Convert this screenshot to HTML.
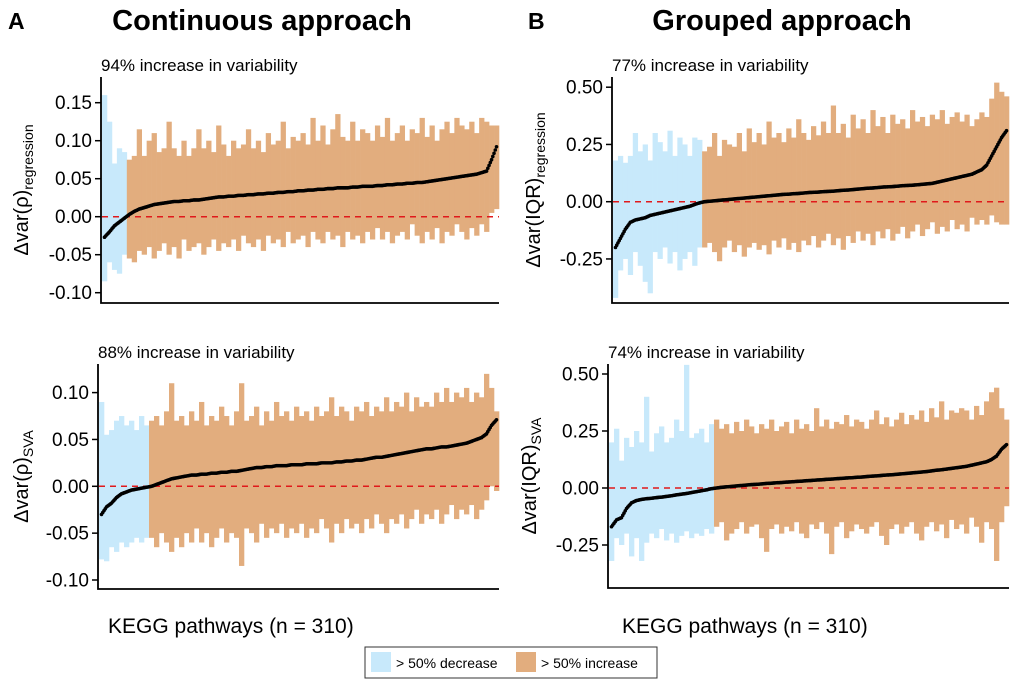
<!DOCTYPE html>
<html><head><meta charset="utf-8"><style>
body{margin:0;background:#fff;width:1020px;height:684px;overflow:hidden;font-family:"Liberation Sans",Arial,sans-serif}
svg text{font-family:"Liberation Sans",Arial,sans-serif}
</style></head><body>
<svg id="chart" width="1020" height="684" viewBox="0 0 1020 684" xmlns="http://www.w3.org/2000/svg">
<text x="8" y="29" font-size="23" font-weight="bold">A</text>
<text x="262" y="30" font-size="29" font-weight="bold" text-anchor="middle">Continuous approach</text>
<text x="528" y="29" font-size="23" font-weight="bold">B</text>
<text x="782" y="30" font-size="29" font-weight="bold" text-anchor="middle">Grouped approach</text>
<text x="108" y="633" font-size="21">KEGG pathways (n = 310)</text>
<text x="622" y="633" font-size="21">KEGG pathways (n = 310)</text>
<g>
<rect x="365" y="647" width="292" height="31" fill="#fff" stroke="#333" stroke-width="1"/>
<rect x="371" y="652" width="20" height="20" fill="#c8e9fb"/>
<text x="396" y="668" font-size="14">&gt; 50% decrease</text>
<rect x="516" y="652" width="20" height="20" fill="#e2ad7e"/>
<text x="541" y="668" font-size="14">&gt; 50% increase</text>
</g>
</svg>
<script>
const aTopMid=[-0.027,-0.02,-0.012,-0.007,-0.002,0.003,0.007,0.01,0.012,0.014,0.016,0.017,0.018,0.019,0.02,0.02,0.021,0.021,0.022,0.022,0.023,0.024,0.025,0.026,0.026,0.027,0.027,0.028,0.028,0.029,0.029,0.03,0.03,0.031,0.031,0.032,0.032,0.033,0.033,0.034,0.034,0.035,0.035,0.036,0.036,0.037,0.037,0.038,0.038,0.038,0.039,0.039,0.04,0.04,0.04,0.041,0.041,0.042,0.042,0.043,0.043,0.044,0.044,0.045,0.045,0.046,0.047,0.048,0.049,0.05,0.051,0.052,0.053,0.054,0.055,0.056,0.058,0.06,0.075,0.092];
const aTopUp=[0.16,0.125,0.07,0.09,0.085,0.075,0.08,0.115,0.08,0.1,0.11,0.085,0.09,0.125,0.09,0.08,0.1,0.08,0.09,0.115,0.09,0.1,0.085,0.12,0.095,0.08,0.1,0.09,0.095,0.115,0.09,0.1,0.085,0.11,0.095,0.1,0.125,0.09,0.105,0.1,0.11,0.095,0.13,0.1,0.12,0.095,0.115,0.135,0.105,0.1,0.125,0.1,0.115,0.11,0.1,0.12,0.105,0.13,0.1,0.11,0.12,0.1,0.115,0.11,0.13,0.105,0.12,0.1,0.115,0.125,0.11,0.13,0.12,0.115,0.125,0.11,0.13,0.125,0.12,0.12];
const aTopLo=[-0.085,-0.06,-0.07,-0.075,-0.05,-0.055,-0.06,-0.045,-0.05,-0.04,-0.055,-0.045,-0.035,-0.05,-0.04,-0.055,-0.03,-0.045,-0.04,-0.035,-0.05,-0.04,-0.03,-0.045,-0.035,-0.04,-0.03,-0.045,-0.025,-0.035,-0.04,-0.03,-0.045,-0.025,-0.035,-0.03,-0.04,-0.02,-0.035,-0.03,-0.025,-0.04,-0.02,-0.03,-0.035,-0.02,-0.03,-0.025,-0.04,-0.02,-0.03,-0.025,-0.035,-0.02,-0.03,-0.015,-0.03,-0.02,-0.035,-0.025,-0.02,-0.03,-0.01,-0.025,-0.035,-0.02,-0.03,-0.015,-0.035,-0.02,-0.025,-0.01,-0.02,-0.03,-0.015,-0.025,-0.01,-0.02,0.005,0.01];
const aBotMid=[-0.03,-0.022,-0.018,-0.012,-0.008,-0.006,-0.004,-0.003,-0.002,-0.001,0.0,0.002,0.004,0.006,0.008,0.009,0.01,0.011,0.012,0.012,0.013,0.013,0.014,0.014,0.015,0.015,0.016,0.016,0.017,0.018,0.019,0.02,0.02,0.021,0.021,0.022,0.022,0.022,0.023,0.023,0.023,0.024,0.024,0.024,0.025,0.025,0.025,0.026,0.026,0.027,0.027,0.028,0.028,0.029,0.03,0.031,0.031,0.032,0.033,0.034,0.035,0.036,0.037,0.038,0.039,0.04,0.04,0.041,0.042,0.042,0.043,0.044,0.045,0.046,0.048,0.05,0.052,0.056,0.065,0.071];
const aBotUp=[0.09,0.055,0.06,0.07,0.075,0.065,0.07,0.06,0.075,0.065,0.07,0.075,0.065,0.08,0.11,0.07,0.075,0.065,0.08,0.07,0.09,0.065,0.075,0.07,0.085,0.075,0.065,0.08,0.11,0.07,0.075,0.085,0.065,0.08,0.07,0.09,0.075,0.08,0.07,0.085,0.075,0.08,0.07,0.085,0.075,0.08,0.095,0.075,0.085,0.08,0.07,0.085,0.08,0.09,0.075,0.085,0.08,0.095,0.08,0.09,0.085,0.1,0.08,0.095,0.085,0.09,0.085,0.1,0.09,0.105,0.09,0.1,0.095,0.105,0.09,0.1,0.095,0.12,0.105,0.08];
const aBotLo=[-0.078,-0.08,-0.065,-0.07,-0.06,-0.065,-0.06,-0.055,-0.06,-0.055,-0.055,-0.065,-0.05,-0.06,-0.07,-0.055,-0.065,-0.05,-0.06,-0.045,-0.06,-0.05,-0.065,-0.055,-0.045,-0.06,-0.05,-0.055,-0.085,-0.045,-0.05,-0.06,-0.04,-0.055,-0.045,-0.05,-0.04,-0.055,-0.045,-0.05,-0.04,-0.055,-0.045,-0.05,-0.035,-0.045,-0.06,-0.04,-0.05,-0.035,-0.045,-0.04,-0.05,-0.035,-0.045,-0.03,-0.04,-0.05,-0.035,-0.04,-0.03,-0.045,-0.035,-0.025,-0.04,-0.03,-0.035,-0.025,-0.04,-0.03,-0.02,-0.035,-0.025,-0.03,-0.02,-0.035,-0.025,-0.015,0.0,-0.005];
const bTopMid=[-0.2,-0.16,-0.12,-0.09,-0.08,-0.075,-0.07,-0.06,-0.055,-0.05,-0.045,-0.04,-0.035,-0.03,-0.025,-0.02,-0.012,-0.005,0.0,0.002,0.004,0.006,0.008,0.01,0.012,0.014,0.016,0.018,0.02,0.022,0.024,0.026,0.028,0.03,0.032,0.033,0.035,0.036,0.038,0.04,0.041,0.042,0.044,0.045,0.046,0.048,0.05,0.051,0.053,0.055,0.057,0.059,0.06,0.062,0.064,0.065,0.066,0.068,0.07,0.071,0.072,0.074,0.076,0.078,0.08,0.085,0.09,0.095,0.1,0.105,0.11,0.115,0.12,0.13,0.14,0.16,0.2,0.24,0.28,0.31];
const bTopUp=[0.18,0.2,0.17,0.2,0.3,0.22,0.25,0.18,0.3,0.26,0.22,0.31,0.2,0.28,0.25,0.2,0.28,0.27,0.22,0.24,0.3,0.2,0.27,0.25,0.24,0.3,0.22,0.32,0.26,0.3,0.25,0.35,0.28,0.3,0.26,0.32,0.28,0.36,0.3,0.27,0.33,0.29,0.35,0.3,0.42,0.3,0.34,0.28,0.38,0.32,0.36,0.3,0.4,0.33,0.37,0.3,0.38,0.34,0.36,0.32,0.4,0.35,0.37,0.33,0.38,0.36,0.4,0.34,0.37,0.39,0.35,0.38,0.33,0.36,0.39,0.37,0.45,0.52,0.48,0.46];
const bTopLo=[-0.42,-0.3,-0.25,-0.32,-0.22,-0.28,-0.35,-0.4,-0.22,-0.25,-0.2,-0.27,-0.22,-0.3,-0.25,-0.22,-0.28,-0.2,-0.2,-0.18,-0.22,-0.26,-0.2,-0.17,-0.22,-0.19,-0.24,-0.2,-0.18,-0.21,-0.19,-0.23,-0.17,-0.2,-0.16,-0.21,-0.18,-0.22,-0.17,-0.19,-0.15,-0.2,-0.17,-0.14,-0.19,-0.16,-0.21,-0.15,-0.18,-0.13,-0.17,-0.14,-0.19,-0.13,-0.16,-0.12,-0.17,-0.14,-0.11,-0.16,-0.13,-0.1,-0.15,-0.12,-0.09,-0.14,-0.11,-0.13,-0.08,-0.12,-0.1,-0.13,-0.07,-0.1,-0.08,-0.1,-0.06,-0.09,-0.1,-0.1];
const bBotMid=[-0.17,-0.14,-0.13,-0.09,-0.065,-0.055,-0.05,-0.047,-0.045,-0.042,-0.04,-0.037,-0.034,-0.03,-0.027,-0.024,-0.02,-0.016,-0.012,-0.008,-0.003,0.0,0.003,0.005,0.007,0.009,0.011,0.013,0.015,0.016,0.018,0.02,0.021,0.023,0.024,0.026,0.027,0.029,0.03,0.032,0.033,0.035,0.036,0.038,0.039,0.041,0.042,0.044,0.045,0.047,0.048,0.05,0.052,0.053,0.055,0.057,0.058,0.06,0.062,0.064,0.066,0.068,0.07,0.072,0.075,0.078,0.08,0.083,0.086,0.089,0.092,0.095,0.1,0.105,0.11,0.115,0.125,0.14,0.17,0.19];
const bBotUp=[0.2,0.26,0.12,0.22,0.18,0.25,0.2,0.4,0.16,0.24,0.27,0.2,0.22,0.3,0.25,0.54,0.22,0.24,0.26,0.2,0.28,0.3,0.26,0.28,0.24,0.29,0.25,0.3,0.27,0.24,0.28,0.26,0.3,0.25,0.27,0.29,0.24,0.3,0.26,0.28,0.25,0.35,0.27,0.3,0.26,0.29,0.28,0.32,0.27,0.3,0.29,0.26,0.3,0.34,0.28,0.31,0.27,0.3,0.33,0.28,0.32,0.3,0.34,0.29,0.35,0.31,0.38,0.3,0.34,0.33,0.35,0.34,0.3,0.36,0.32,0.38,0.42,0.44,0.35,0.3];
const bBotLo=[-0.32,-0.22,-0.25,-0.2,-0.3,-0.22,-0.32,-0.24,-0.2,-0.22,-0.18,-0.23,-0.2,-0.24,-0.21,-0.19,-0.22,-0.2,-0.21,-0.18,-0.2,-0.17,-0.15,-0.23,-0.2,-0.18,-0.15,-0.2,-0.17,-0.16,-0.22,-0.28,-0.18,-0.16,-0.2,-0.17,-0.19,-0.15,-0.2,-0.22,-0.16,-0.18,-0.15,-0.2,-0.29,-0.17,-0.15,-0.22,-0.19,-0.16,-0.18,-0.2,-0.17,-0.15,-0.21,-0.25,-0.18,-0.16,-0.2,-0.17,-0.15,-0.2,-0.23,-0.17,-0.15,-0.19,-0.16,-0.22,-0.14,-0.18,-0.16,-0.2,-0.13,-0.17,-0.24,-0.15,-0.18,-0.32,-0.15,-0.08];
const aTicks=[0.15,0.10,0.05,0.00,-0.05,-0.10];
const aBotTicks=[0.10,0.05,0.00,-0.05,-0.10];
const bTicks=[0.50,0.25,0.00,-0.25];
const blueCounts=[5,10,18,21];
const subtitles=["94% increase in variability","88% increase in variability","77% increase in variability","74% increase in variability"];

const NS="http://www.w3.org/2000/svg";
const svg=document.getElementById('chart');
function mk(tag,attrs,parent){const e=document.createElementNS(NS,tag);for(const k in attrs)e.setAttribute(k,attrs[k]);(parent||svg).appendChild(e);return e;}
const panels=[
 {key:'a-top',mid:aTopMid,up:aTopUp,lo:aTopLo,ticks:aTicks,ax:101,x1:499,top:77,bot:303,zero:216.7,ppu:760,dec:2,sub:0,blue:0,lab:'Δvar(ρ)',subl:'regression',lx:28},
 {key:'a-bottom',mid:aBotMid,up:aBotUp,lo:aBotLo,ticks:aBotTicks,ax:98,x1:499,top:364,bot:589,zero:486.3,ppu:937,dec:2,sub:1,blue:1,lab:'Δvar(ρ)',subl:'SVA',lx:28},
 {key:'b-top',mid:bTopMid,up:bTopUp,lo:bTopLo,ticks:bTicks,ax:612,x1:1009,top:77,bot:303,zero:201.7,ppu:229,dec:2,sub:2,blue:2,lab:'Δvar(IQR)',subl:'regression',lx:540},
 {key:'b-bottom',mid:bBotMid,up:bBotUp,lo:bBotLo,ticks:bTicks,ax:608,x1:1009,top:364,bot:588,zero:488,ppu:228,dec:2,sub:3,blue:3,lab:'Δvar(IQR)',subl:'SVA',lx:536}
];
panels.forEach(p=>{
  const g=mk('g',{});
  
  
  const n=p.mid.length;
  const x0=p.ax+1;
  const bw=(p.x1-x0)/n;
  const xs=i=>x0+bw*(i+0.5);
  const ys=v=>p.zero-v*p.ppu;
  const nb=blueCounts[p.blue];
  for(let i=0;i<n;i++){
    const r=mk('rect',{x:xs(i)-bw/2,y:ys(p.up[i]),width:bw+0.3,height:ys(p.lo[i])-ys(p.up[i]),fill:i<nb?'#c8e9fb':'#e2ad7e'},g);
    
    
  }
  const ref=mk('line',{x1:x0,x2:p.x1,y1:ys(0),y2:ys(0),stroke:'#e0191b','stroke-width':1.5,'stroke-dasharray':'6,5'},g);
  
  
  for(let i=0;i<n;i++){
    for(let k=0;k<4;k++){
      const t=i+k/4, j=Math.min(i+1,n-1);
      const v=p.mid[i]+(p.mid[j]-p.mid[i])*k/4;
      if(k>0&&i===n-1)break;
      const c=mk('circle',{cx:x0+bw*(t+0.5),cy:ys(v),r:1.8,fill:'#000'},g);
      
      
    }
  }
  const ax=mk('path',{d:`M${p.ax} ${p.top}V${p.bot}H${p.x1}`,fill:'none',stroke:'#000','stroke-width':1.8},g);
  
  
  p.ticks.forEach(v=>{
    const y=ys(v);
    mk('line',{x1:p.ax-6,x2:p.ax,y1:y,y2:y,stroke:'#000','stroke-width':1.5},g);
    const t=mk('text',{x:p.ax-9,y:y+6.5,'font-size':19,'text-anchor':'end'},g);
    t.textContent=v.toFixed(p.dec).replace(/^(-?)0\./,'$10.');
    
    
  });
  const st=mk('text',{x:p.ax,y:p.top-6,'font-size':17},g);
  st.textContent=subtitles[p.sub];
  
  
  const cy=(p.top+p.bot)/2;
  const yt=mk('text',{x:0,y:0,'font-size':20,'text-anchor':'middle',transform:`translate(${p.lx},${cy}) rotate(-90)`},g);
  
  
  const t1=mk('tspan',{},yt);t1.textContent=p.lab;
  const t2=mk('tspan',{'font-size':14,dy:5},yt);t2.textContent=p.subl;
});
</script>
</body></html>
